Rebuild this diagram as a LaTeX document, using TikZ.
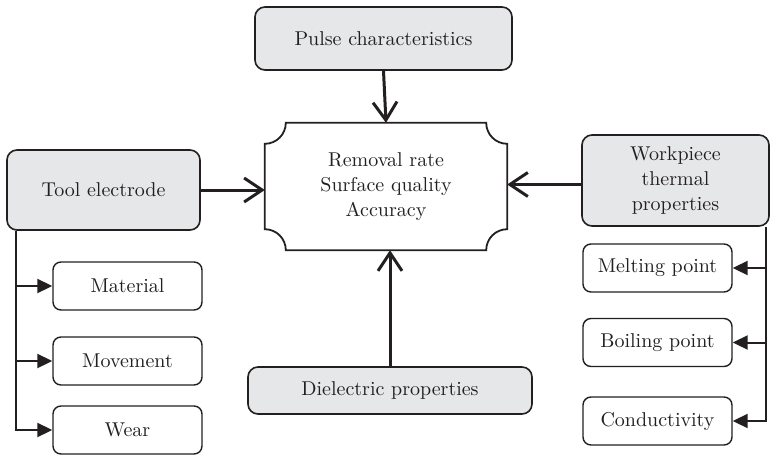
\documentclass[tikz,border=0pt]{standalone}
\usepackage{fontspec}
\setmainfont{lmroman10-regular.otf}
\usepackage{tikz}
\usetikzlibrary{arrows.meta,positioning}
\definecolor{boxgray}{RGB}{230,231,232}
\definecolor{inkdark}{RGB}{35,31,32}

\begin{document}
\begin{tikzpicture}[
    x=1pt, y=-1pt,
    every node/.style={font=\fontsize{20}{25}\selectfont, text=inkdark},
    factor/.style={draw=inkdark, line width=1.6pt, rounded corners=10pt, fill=boxgray,
                align=center, inner sep=0pt},
    item/.style={draw=inkdark, line width=1.4pt, rounded corners=8pt, fill=white,
                minimum width=149pt, minimum height=48pt, inner sep=0pt},
    outcome/.style={align=center, minimum width=242pt, minimum height=127pt, inner sep=0pt},
    feed/.style={draw=inkdark, line width=3pt, -{Straight Barb[length=18pt,width=24pt]}},
    branch/.style={draw=inkdark, line width=2pt, -{Triangle[length=15pt,width=14pt]}}
]
\useasboundingbox (0,0) rectangle (770,455);

% central box with scalloped corners
\node[outcome] (result) at (386,186.5) {Removal rate\\Surface quality\\Accuracy};
\draw[draw=inkdark, line width=1.8pt]
  ([xshift=21pt]result.north west) -- ([xshift=-21pt]result.north east)
  arc[start angle=180, end angle=270, radius=21pt] -- ([yshift=21pt]result.south east)
  arc[start angle=90, end angle=180, radius=21pt] -- ([xshift=21pt]result.south west)
  arc[start angle=0, end angle=90, radius=21pt] -- ([yshift=-21pt]result.north west)
  arc[start angle=270, end angle=360, radius=21pt] -- cycle;

% influencing factors
\node[factor, minimum width=257pt, minimum height=63pt] (pulse) at (383.5,38.5) {Pulse characteristics};
\node[factor, minimum width=193pt, minimum height=80pt] (tool) at (103.5,190) {Tool electrode};
\node[factor, minimum width=187pt, minimum height=91pt] (work) at (675.5,180.5) {Workpiece\\thermal\\properties};
\node[factor, minimum width=284pt, minimum height=47pt] (dielectric) at (390,390.5) {Dielectric properties};

% sub-items
\node[item] (material) at (127.5,286) {Material};
\node[item] (movement) at (127.5,361) {Movement};
\node[item] (wear) at (127.5,430) {Wear};
\node[item] (melting) at (657.5,268) {Melting point};
\node[item] (boiling) at (657.5,342.5) {Boiling point};
\node[item] (conductivity) at (657.5,421) {Conductivity};

\draw[feed] (pulse.south) -- (result.north);
\draw[feed] (tool.east) -- (tool.east -| result.west);
\draw[feed] ([yshift=-4pt]work.west) -- ([yshift=-4pt]work.west -| result.east);
\draw[feed] (dielectric.north) -- (dielectric.north |- result.south);

\coordinate (ltrunk) at ([xshift=10pt]tool.south west);
\coordinate (rtrunk) at ([xshift=-4pt]work.south east);
\draw[branch] (ltrunk) |- (material.west);
\draw[branch] (ltrunk) |- (movement.west);
\draw[branch] (ltrunk) |- (wear.west);
\draw[branch] (rtrunk) |- (melting.east);
\draw[branch] (rtrunk) |- (boiling.east);
\draw[branch] (rtrunk) |- (conductivity.east);

\end{tikzpicture}
\end{document}
